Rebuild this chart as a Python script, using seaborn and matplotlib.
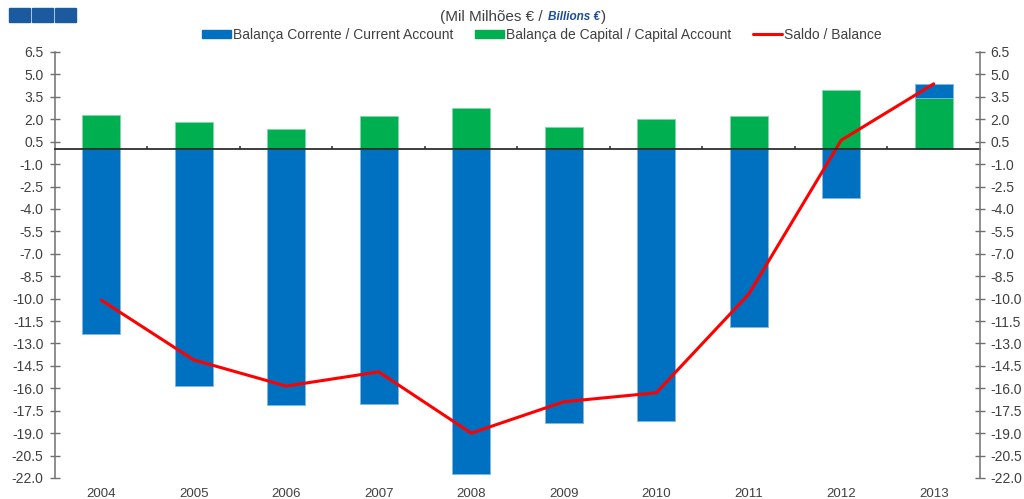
import matplotlib
matplotlib.use("Agg")
import matplotlib.pyplot as plt
import matplotlib.patches as mpatches
import matplotlib.lines as mlines
import numpy as np
import pandas as pd
import seaborn as sns

years = ["2004", "2005", "2006", "2007", "2008", "2009", "2010", "2011", "2012", "2013"]
current_account = [-12.4, -15.85, -17.1, -17.05, -21.7, -18.3, -18.2, -11.9, -3.28, 0.97]
capital_account = [2.27, 1.8, 1.34, 2.2, 2.74, 1.47, 2.0, 2.2, 3.95, 3.4]
balance = [-10.1, -14.1, -15.85, -14.9, -19.0, -16.9, -16.3, -9.7, 0.6, 4.37]
y_ticks = [6.5 - 1.5 * i for i in range(20)]

BLUE = "#0070C0"
GREEN = "#00B050"
RED = "#FF0000"
TXT = "#404040"
AXC = "#707070"

sns.set_theme(style="white")
plt.rcParams["font.family"] = ["Liberation Sans", "DejaVu Sans"]
plt.rcParams["axes.unicode_minus"] = False

df = pd.DataFrame({"year": years, "current": current_account,
                   "capital": capital_account, "balance": balance})

fig = plt.figure(figsize=(10.24, 4.99), dpi=100)
ax = fig.add_axes([0.0537, 0.0421, 0.9033, 0.8537])

bar_w = 0.41
sns.barplot(data=df, x="year", y="capital", color=GREEN, width=bar_w,
            saturation=1, ax=ax, zorder=2, edgecolor="#7fd8a7", linewidth=0.6)
cur = np.array(current_account)
bottoms = np.where(cur > 0, np.array(capital_account), 0.0)
xpos = np.arange(len(years))
ax.bar(xpos, cur, bottom=bottoms, width=bar_w, color=BLUE, zorder=2,
       edgecolor="#7fb7e0", linewidth=0.6)
sns.lineplot(x=xpos, y=df["balance"], color=RED, linewidth=2.2, ax=ax,
             zorder=4)

ax.set_xlim(-0.5, len(years) - 0.5)
ax.set_ylim(-22.0, 6.5)
ax.set_yticks(y_ticks)
ax.set_yticklabels([f"{v:.1f}" for v in y_ticks])
ax.set_xticks(xpos)
ax.set_xticklabels(years)
ax.set_xlabel("")
ax.set_ylabel("")
for s in ["top", "right", "bottom"]:
    ax.spines[s].set_visible(False)
ax.spines["left"].set_color(AXC)
ax.spines["left"].set_linewidth(1.1)
ax.tick_params(axis="y", direction="inout", length=6.5, width=1.0,
               color=AXC, labelsize=10, labelcolor=TXT, pad=5, left=True)
ax.tick_params(axis="x", length=0, labelsize=9.5, labelcolor=TXT, pad=7)

ax2 = ax.twinx()
ax2.set_ylim(ax.get_ylim())
ax2.set_yticks(y_ticks)
ax2.set_yticklabels([f"{v:.1f}" for v in y_ticks])
for s in ["top", "left", "bottom"]:
    ax2.spines[s].set_visible(False)
ax2.spines["right"].set_color(AXC)
ax2.spines["right"].set_linewidth(1.1)
ax2.tick_params(axis="y", direction="inout", length=6.5, width=1.0,
                color=AXC, labelsize=10, labelcolor=TXT, pad=4, right=True)
ax2.grid(False)

# zero line with category-boundary ticks
zero_frac = (0 - (-22.0)) / (6.5 - (-22.0))
sec = ax.secondary_xaxis(zero_frac)
sec.set_xticks(xpos[:-1] + 0.5)
sec.set_xticklabels([])
sec.tick_params(axis="x", direction="out", length=2.5, width=1.2, color="#404040")
sec.spines["bottom"].set_color("#404040")
sec.spines["bottom"].set_linewidth(1.2)
sec.set_zorder(5)

# title (mixed style)
fig.text(0.534, 0.966, "(Mil Milhões € / ", ha="right", va="center",
         fontsize=11, color=TXT)
t2 = fig.text(0.535, 0.966, "Billions €", ha="left", va="center",
              fontsize=8.5, color="#1F4E99", fontweight="bold", fontstyle="italic")
fig.canvas.draw()
bb = t2.get_window_extent(renderer=fig.canvas.get_renderer())
fig.text(bb.x1 / fig.bbox.width + 0.001, 0.966, ")", ha="left", va="center",
         fontsize=11, color=TXT)

# legend
handles = [mpatches.Patch(color=BLUE, label="Balança Corrente / Current Account"),
           mpatches.Patch(color=GREEN, label="Balança de Capital / Capital Account"),
           mlines.Line2D([], [], color=RED, linewidth=2.2, label="Saldo / Balance")]
fig.legend(handles=handles, loc="center", bbox_to_anchor=(0.529, 0.930), ncol=3,
           frameon=False, fontsize=10, handlelength=2.1, handleheight=0.5,
           handletextpad=0.1, columnspacing=1.6, labelcolor=TXT)

# logo squares
for x0 in [9, 32, 55]:
    fig.patches.append(mpatches.Rectangle((x0 / 1024, 1 - 22 / 499), 21 / 1024, 14 / 499,
                                          transform=fig.transFigure, color="#1C5AA0",
                                          figure=fig))

fig.savefig("out.png", dpi=100)
